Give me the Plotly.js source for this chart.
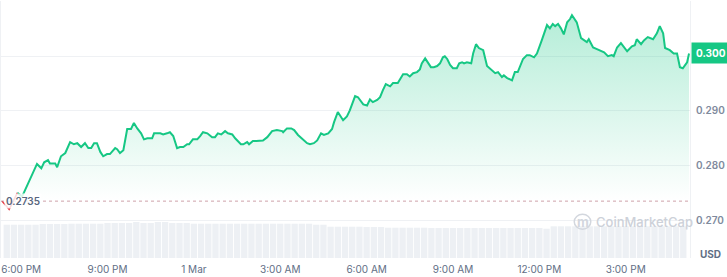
<!DOCTYPE html>
<html>
<head>
<meta charset="utf-8">
<script src="https://cdn.plot.ly/plotly-3.0.1.min.js"></script>
<style>html,body{margin:0;padding:0;background:#fff;}#chart{width:727px;height:277px;}</style>
</head>
<body>
<div id="chart"></div>
<script>
// minutes since 29 Feb 18:00
const times = [-40,-25,-8,2,6,19,29,33,42,48,56,60,71,75,83,92,102,110,117,125,133,140,146,152,158,165,171,179,185,196,200,206,213,221,229,235,242,250,256,263,273,277,290,296,304,310,317,325,331,338,346,350,358,367,373,379,388,398,404,410,417,425,431,440,446,458,463,471,475,483,490,496,504,513,523,533,544,546,554,563,569,577,588,596,602,610,617,625,631,640,648,652,660,671,679,685,696,702,713,721,727,733,742,748,754,760,769,775,785,792,796,804,810,817,825,831,835,842,848,854,860,867,873,879,883,888,894,900,908,913,919,923,929,938,942,948,954,963,971,981,988,994,1002,1006,1013,1023,1029,1035,1046,1054,1060,1069,1075,1085,1092,1096,1102,1108,1113,1119,1125,1131,1138,1144,1148,1158,1167,1173,1179,1183,1192,1200,1208,1215,1223,1231,1235,1242,1250,1263,1273,1279,1283,1292,1298,1306,1317,1325,1331,1338,1342,1352,1360,1367,1373,1379,1388,1392];
const prices = [0.2735,0.2720,0.2750,0.2744,0.2751,0.2777,0.2795,0.2803,0.2795,0.2806,0.2810,0.2804,0.2804,0.2797,0.2817,0.2823,0.2843,0.2839,0.2841,0.2834,0.2841,0.2832,0.2832,0.2841,0.2841,0.2825,0.2817,0.2821,0.2821,0.2832,0.2830,0.2823,0.2828,0.2867,0.2867,0.2878,0.2868,0.2859,0.2848,0.2850,0.2850,0.2859,0.2859,0.2857,0.2859,0.2861,0.2854,0.2832,0.2834,0.2834,0.2839,0.2839,0.2848,0.2848,0.2854,0.2861,0.2859,0.2852,0.2852,0.2859,0.2857,0.2863,0.2859,0.2857,0.2850,0.2839,0.2839,0.2843,0.2839,0.2845,0.2845,0.2845,0.2846,0.2852,0.2863,0.2865,0.2863,0.2861,0.2868,0.2868,0.2865,0.2856,0.2848,0.2841,0.2839,0.2841,0.2846,0.2859,0.2856,0.2859,0.2867,0.2879,0.2898,0.2883,0.2890,0.2901,0.2927,0.2925,0.2912,0.2910,0.2921,0.2916,0.2920,0.2925,0.2938,0.2949,0.2945,0.2951,0.2951,0.2960,0.2967,0.2967,0.2963,0.2969,0.2971,0.2976,0.2987,0.2996,0.2987,0.2980,0.2980,0.2982,0.2987,0.2998,0.3000,0.2995,0.2984,0.2978,0.2978,0.2987,0.2989,0.2987,0.2989,0.2987,0.3005,0.3022,0.3015,0.3011,0.2982,0.2974,0.2969,0.2971,0.2962,0.2965,0.2960,0.2956,0.2971,0.2971,0.2995,0.3002,0.3002,0.2998,0.3005,0.3029,0.3048,0.3057,0.3051,0.3059,0.3055,0.3059,0.3051,0.3040,0.3062,0.3068,0.3075,0.3062,0.3033,0.3029,0.3026,0.3031,0.3016,0.3013,0.3009,0.3007,0.3000,0.3002,0.3000,0.3016,0.3024,0.3009,0.3018,0.3020,0.3031,0.3022,0.3029,0.3035,0.3031,0.3042,0.3055,0.3042,0.3015,0.3011,0.3005,0.3005,0.2980,0.2978,0.2989,0.3005];
const openPrice = 0.2735;
const lastPriceText = '0.300';

// 24h volume bars (relative units), every 15 minutes
const volTimes = [-30,-15,0,15,30,45,60,75,90,105,120,135,150,165,180,195,210,225,240,255,270,285,300,315,330,345,360,375,390,405,420,435,450,465,480,495,510,525,540,555,570,585,600,615,630,645,660,675,690,705,720,735,750,765,780,795,810,825,840,855,870,885,900,915,930,945,960,975,990,1005,1020,1035,1050,1065,1080,1095,1110,1125,1140,1155,1170,1185,1200,1215,1230,1245,1260,1275,1290,1305,1320,1335,1350,1365,1380];
const volumes = [33.3,33.3,33.3,33.3,33.3,34,34,34,34,34.3,34.3,34.3,34.3,34.3,35,35,35,35,36,35,35,36,36,35,35,35,34.3,34.3,34.3,34.3,34.3,34.3,34.3,34.3,34.3,34.3,34.3,34.3,34.3,34.3,34.3,34.3,34.3,33.3,33.3,31.3,31.3,31.3,31.3,31.3,31,31,31,30.3,30.3,30.3,30.3,30.3,30.3,30,30,30,30,30,30,30,30,30,30,30,30,30,30,30,30,29.3,31.7,31.7,31.7,31.7,31.7,31.7,31.7,31.7,31.7,31.7,31.7,31.7,31.7,31.7,31.7,31.7,31.7,31.7,31.7];

const xTickVals = [0,180,360,540,720,900,1080,1260];
const xTickText = ['6:00 PM','9:00 PM','1 Mar','3:00 AM','6:00 AM','9:00 AM','12:00 PM','3:00 PM'];
const yTickVals = [0.27,0.28,0.29,0.30,0.31];
const yTickText = ['0.270','0.280','0.290','',''];

const GREEN = '#16c784';
const RED = '#ea3943';
const FONT = 'Inter, "Noto Sans", sans-serif';

const gx = times.slice(2), gy = prices.slice(2);

const traces = [
  {x: volTimes, y: volumes, type: 'bar', xaxis: 'x', yaxis: 'y2',
   marker: {color: '#edf0f4', line: {width: 0}}, hoverinfo: 'skip', showlegend: false},
  {x: gx, y: gx.map(() => openPrice), type: 'scatter', mode: 'lines',
   line: {width: 0, color: 'rgba(0,0,0,0)'}, hoverinfo: 'skip', showlegend: false},
  {x: gx, y: gy, type: 'scatter', mode: 'lines', fill: 'tonexty',
   fillgradient: {type: 'vertical', colorscale: [[0, 'rgba(22,199,132,0)'], [1, 'rgba(22,199,132,0.32)']]},
   line: {color: GREEN, width: 2}, showlegend: false},
  {x: times.slice(0, 3), y: prices.slice(0, 3), type: 'scatter', mode: 'lines',
   line: {color: RED, width: 1.5}, showlegend: false}
];

const layout = {
  width: 727, height: 277,
  margin: {l: 1, r: 37, t: 1, b: 19},
  paper_bgcolor: '#fff', plot_bgcolor: 'rgba(0,0,0,0)',
  font: {family: FONT, color: '#808a9d', size: 10},
  bargap: 0.12,
  xaxis: {range: [-42, 1394], tickvals: xTickVals, ticktext: xTickText,
    showgrid: false, zeroline: false, showline: false, ticks: '',
    ticklabelstandoff: 4,
    tickfont: {size: 10, color: '#616e85', family: FONT}, fixedrange: true},
  yaxis: {range: [0.2631, 0.3101], side: 'right', tickvals: yTickVals, ticktext: yTickText,
    showgrid: true, gridcolor: '#eff1f4', gridwidth: 1, zeroline: false,
    showline: true, mirror: true, linecolor: '#eff1f4', linewidth: 1, ticks: '',
    ticklabelstandoff: 3,
    tickfont: {size: 10, color: '#808a9d', family: FONT, weight: 600}},
  yaxis2: {domain: [0, 0.1556], range: [0, 40], visible: false, showgrid: false, zeroline: false},
  shapes: [
    {type: 'line', xref: 'paper', x0: 0, x1: 1, yref: 'y', y0: openPrice, y1: openPrice,
     line: {color: 'rgba(190,130,140,0.75)', width: 1, dash: 'dot'}, layer: 'above'},
    {type: 'circle', xref: 'paper', yref: 'paper', x0: 0.832, x1: 0.856, y0: 0.112, y1: 0.170,
     line: {color: '#d3d7de', width: 1.5}, fillcolor: 'rgba(0,0,0,0)'}
  ],
  annotations: [
    {xref: 'paper', x: 0, xanchor: 'left', xshift: 3, yref: 'y', y: openPrice, yanchor: 'middle',
     text: openPrice.toFixed(4), showarrow: false, bgcolor: 'rgba(255,255,255,0.82)', borderpad: 1,
     font: {size: 10, color: '#58667e', family: FONT, weight: 600}},
    {xref: 'paper', x: 1, xanchor: 'left', xshift: 1, yref: 'y', y: prices[prices.length - 1], yanchor: 'middle',
     text: lastPriceText, showarrow: false, bgcolor: GREEN, borderpad: 4,
     font: {size: 10, color: '#ffffff', family: FONT, weight: 700}},
    {xref: 'paper', x: 1, xanchor: 'left', xshift: 8, yref: 'paper', y: 0, yanchor: 'middle', yshift: 4,
     text: 'USD', showarrow: false, font: {size: 10, color: '#616e85', family: FONT, weight: 700}},
    {xref: 'paper', x: 0.844, xanchor: 'center', yref: 'paper', y: 0.141, yanchor: 'middle',
     text: 'm', showarrow: false, font: {size: 13, color: '#d3d7de', family: FONT, weight: 700}},
    {xref: 'paper', x: 0.86, xanchor: 'left', yref: 'paper', y: 0.141, yanchor: 'middle',
     text: 'CoinMarketCap', showarrow: false, font: {size: 13, color: '#cdd1d9', family: FONT, weight: 500}}
  ]
};

Plotly.newPlot('chart', traces, layout, {displayModeBar: false, staticPlot: true});
</script>
</body>
</html>
